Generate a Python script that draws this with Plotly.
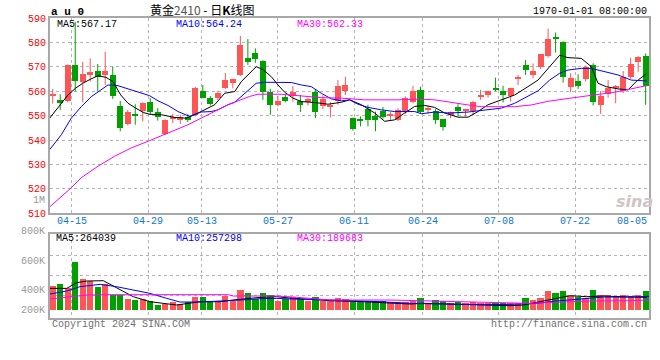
import plotly.graph_objects as go

W, H = 660, 360

# ---------------- data ----------------
DATES = [
    "04-10", "04-11", "04-12", "04-15", "04-16", "04-17", "04-18", "04-19", "04-22", "04-23",
    "04-24", "04-25", "04-26", "04-29", "04-30", "05-06", "05-07", "05-08", "05-09", "05-10",
    "05-13", "05-14", "05-15", "05-16", "05-17", "05-20", "05-21", "05-22", "05-23", "05-24",
    "05-27", "05-28", "05-29", "05-30", "05-31", "06-03", "06-04", "06-05", "06-06", "06-07",
    "06-11", "06-12", "06-13", "06-14", "06-17", "06-18", "06-19", "06-20", "06-21", "06-24",
    "06-25", "06-26", "06-27", "06-28", "07-01", "07-02", "07-03", "07-04", "07-05", "07-08",
    "07-09", "07-10", "07-11", "07-12", "07-15", "07-16", "07-17", "07-18", "07-19", "07-22",
    "07-23", "07-24", "07-25", "07-26", "07-29", "07-30", "07-31", "08-01", "08-02", "08-05",
]

OPEN = [
    558.0, 556.5, 556.1, 570.8, 563.7, 566.8, 568.3, 566.7, 566.7, 554.0,
    546.7, 550.8, 551.7, 555.5, 551.5, 542.6, 548.7, 548.5, 549.6, 550.4,
    560.2, 557.2, 557.2, 561.5, 563.2, 566.7, 573.5, 575.7, 572.5, 559.6,
    554.2, 557.7, 558.1, 556.1, 555.5, 559.6, 553.8, 553.6, 555.8, 559.9,
    549.0, 548.3, 552.7, 549.7, 552.0, 549.9, 548.3, 551.7, 555.5, 560.6,
    552.3, 551.7, 548.6, 550.1, 553.6, 551.7, 552.0, 557.9, 558.3, 561.5,
    560.2, 557.9, 565.1, 570.8, 566.7, 570.1, 574.6, 582.2, 580.0, 561.9,
    564.0, 565.1, 570.8, 554.5, 558.8, 561.5, 560.2, 566.0, 572.1, 574.4,
]
HIGH = [
    561.0, 558.8, 571.0, 588.4, 572.1, 573.5, 571.2, 576.2, 570.1, 556.1,
    552.4, 554.7, 555.5, 557.2, 553.1, 548.5, 550.8, 550.4, 550.7, 561.8,
    562.6, 558.1, 560.2, 567.5, 565.1, 582.7, 581.4, 577.6, 572.7, 561.0,
    558.1, 558.5, 562.2, 558.5, 557.4, 561.0, 558.3, 555.5, 564.6, 566.0,
    549.3, 549.7, 554.5, 551.7, 553.6, 551.5, 553.1, 557.9, 562.3, 561.9,
    554.2, 552.7, 548.6, 551.7, 554.7, 552.8, 556.1, 560.6, 560.2, 565.6,
    562.3, 561.5, 566.7, 572.8, 571.4, 575.1, 585.7, 584.1, 580.5, 567.4,
    567.0, 570.5, 571.5, 560.2, 564.6, 562.6, 568.3, 573.8, 574.4, 575.5,
]
LOW = [
    555.0, 552.4, 555.5, 560.0, 555.5, 564.0, 559.9, 562.6, 556.9, 543.6,
    546.0, 546.3, 547.7, 550.4, 548.0, 542.2, 547.0, 546.6, 547.4, 549.7,
    557.2, 554.2, 556.5, 561.0, 561.2, 566.3, 570.8, 571.7, 556.5, 550.4,
    553.8, 555.5, 555.8, 551.5, 554.2, 549.0, 552.7, 549.3, 554.5, 558.5,
    543.9, 545.6, 545.6, 543.6, 548.8, 548.3, 547.8, 550.8, 555.1, 550.7,
    550.7, 546.7, 543.9, 549.0, 549.7, 549.7, 550.4, 556.5, 557.4, 560.0,
    555.4, 555.8, 562.6, 566.7, 565.3, 569.1, 573.8, 575.9, 563.6, 559.6,
    561.0, 564.0, 554.2, 550.8, 557.4, 555.1, 559.2, 565.1, 568.0, 554.5,
]
CLOSE = [
    558.9, 555.1, 570.8, 564.0, 567.1, 567.9, 565.7, 568.3, 558.1, 544.9,
    551.3, 550.2, 555.0, 551.5, 549.4, 548.2, 549.2, 549.3, 548.1, 561.3,
    557.4, 554.7, 559.2, 564.5, 565.0, 578.9, 572.1, 573.2, 559.5, 554.2,
    556.1, 555.8, 559.6, 554.2, 556.9, 551.5, 556.9, 553.8, 562.2, 562.6,
    544.7, 548.0, 548.3, 548.3, 549.3, 550.4, 552.4, 557.2, 559.9, 551.5,
    552.8, 548.3, 545.2, 551.5, 551.7, 552.8, 555.5, 558.5, 559.9, 560.6,
    558.3, 561.5, 565.7, 568.5, 568.3, 575.1, 581.6, 581.5, 566.0, 565.3,
    562.3, 570.1, 555.5, 557.9, 561.5, 562.3, 566.0, 571.0, 574.2, 562.3,
]
# volume, thousands of lots
VOLUME_K = [
    407, 440, 363, 792, 523, 479, 380, 435, 248, 248,
    193, 176, 187, 149, 94, 105, 138, 110, 132, 226,
    226, 149, 149, 242, 149, 341, 292, 187, 292, 253,
    160, 187, 220, 187, 154, 220, 160, 176, 209, 187,
    132, 160, 149, 160, 154, 132, 132, 132, 149, 198,
    121, 176, 149, 121, 143, 121, 138, 116, 116, 121,
    121, 121, 121, 209, 165, 209, 314, 281, 314, 242,
    226, 209, 341, 259, 259, 242, 259, 231, 259, 325,
]

# moving-average lines (x = candle index)
MA5_X = [-0.40, 1.07, 2.04, 3.06, 4.0, 5.06, 6.04, 7.10, 8.03, 9.06, 10.03, 11.06, 12.07, 12.92,
         14.47, 16.25, 17.8, 18.92, 20.25, 21.58, 22.92, 24.25, 25.13, 26.25, 27.12, 28.02,
         29.12, 30.02, 30.91, 32.01, 33.12, 34.91, 36.68, 38.45, 39.57, 41.11, 42.9, 44.23,
         45.56, 46.9, 48.23, 49.56, 50.89, 52.23, 54.0, 55.33, 56.66, 58.0, 59.77, 61.55,
         63.32, 64.66, 66.21, 67.55, 68.65, 70.42, 71.76, 72.65, 73.75, 75.31, 76.65, 77.75, 79.08]
MA5_Y = [549, 554.5, 558.5, 561.3, 563.3, 565, 566.4, 565.7, 564, 558.5, 555.1, 553.1, 551.3, 550.6,
         550.4, 549.3, 549, 550.4, 552.4, 554.5, 559.2, 559.9, 564, 567.4, 570.1, 568.9,
         566, 562.6, 559.6, 557.2, 555.8, 555.4, 554.7, 555.5, 556.5, 554.5, 551.1, 547.7,
         548.3, 551.1, 553.8, 554.2, 553.4, 551.1, 549.4, 549.4, 551.7, 554.5, 556.5, 558.5,
         561.9, 564.6, 570.1, 574.8, 573.8, 573.5, 570.1, 563.3, 561.9, 561, 560.6, 564, 567.17]
MA10_X = [-0.40, 1.15, 2.48, 3.81, 5.14, 6.47, 7.37, 8.70, 10.92, 12.92, 14.03, 15.36, 16.69, 17.59,
          18.25, 18.92, 19.8, 21.13, 22.02, 23.35, 24.25, 25.35, 26.25, 27.12, 28.24, 29.58,
          31.79, 33.12, 34.45, 35.78, 37.12, 38.45, 39.57, 40.67, 42.01, 43.78, 45.56, 48.23,
          49.11, 50.89, 52.89, 55.33, 58.43, 59.77, 61.55, 63.32, 64.66, 66.21, 67.55, 68.65,
          70.42, 71.76, 73.54, 75.31, 77.08, 79.14]
MA10_Y = [536.1, 542.2, 549, 553.7, 557.8, 560.6, 562.6, 562.3, 560.1, 558.2, 556.1, 554.2, 551.7, 550.4,
          549.7, 550.6, 551.5, 551.7, 552.4, 554.5, 555.5, 558.5, 561, 563.3, 563.7, 563.6,
          563.6, 562.6, 561.9, 559.2, 556.9, 556.1, 556.5, 554.7, 553.4, 552.4, 551.7, 551.7,
          550.8, 551.5, 551.1, 551.5, 552.4, 553.1, 555.1, 557.9, 560.2, 564.6, 567.4, 568.7,
          569.4, 569.4, 568, 566.7, 564.6, 564.24]
MA30_X = [-0.40, 2.48, 3.81, 6.04, 8.26, 10.47, 12.92, 15.36, 18.03, 20.69, 23.35, 26.25, 27.35,
          30.46, 33.12, 35.78, 38.45, 41.57, 46.0, 48.67, 50.89, 52.66, 55.33, 57.1, 61.55,
          63.76, 65.99, 70.42, 74.87, 79.14]
MA30_Y = [512.6, 520.5, 524.6, 529.3, 533.4, 536.8, 539.8, 542.9, 546.3, 550.4, 554.5, 557.9, 558.8,
          558.8, 558.1, 557.4, 557.2, 556.5, 556.5, 556.8, 556.5, 555.6, 554.4, 553.7, 553.7,
          554.4, 555.9, 557.8, 559.6, 562.33]

VMA5_X = [-0.36, 1.86, 3.2, 4.53, 6.74, 7.63, 8.97, 10.74, 12.96, 15.19, 16.52, 19.62, 22.29, 24.06,
          27.62, 29.84, 32.05, 34.72, 36.94, 41.38, 44.5, 47.6, 49.37, 53.82, 56.93, 60.92, 62.7,
          64.92, 67.15, 68.92, 71.14, 73.35, 75.58, 79.14]
VMA5_Y = [368.5, 368.5, 462, 489.5, 495, 434.5, 341, 231, 148.5, 110, 93.5, 148.5, 148.5, 176,
          220, 231, 203.5, 187, 165, 148.5, 132, 110, 121, 104.5, 88, 82.5, 93.5,
          148.5, 203.5, 247.5, 231, 242, 231, 220]
VMA10_X = [-0.36, 1.86, 3.64, 6.3, 8.52, 10.74, 12.96, 15.19, 16.96, 19.62, 23.17, 24.95, 27.62, 29.84,
           32.05, 34.72, 36.94, 43.6, 47.6, 52.04, 57.38, 60.92, 64.48, 67.15, 70.7, 73.35, 76.9, 79.44]
VMA10_Y = [275, 324.5, 396, 434.5, 396, 341, 286, 203.5, 143, 143, 159.5, 176, 198, 203.5,
           192.5, 187, 176, 148.5, 121, 110, 99, 104.5, 121, 159.5, 192.5, 225.5, 225.5, 236.5]
VMA30_X = [-0.36, 1.86, 4.53, 7.63, 12.52, 23.4, 24.06, 29.84, 32.05, 34.72, 36.94, 44.94, 49.82,
           56.04, 59.15, 63.59, 65.37, 68.04, 71.59, 76.9, 79.44]
VMA30_Y = [192.5, 220, 258.5, 264, 264, 264, 242, 242, 225.5, 198, 176, 176, 159.5,
           143, 132, 121, 132, 148.5, 159.5, 165, 176]

TICK_DATES = ["04-15", "04-29", "05-13", "05-27", "06-11", "06-24", "07-08", "07-22", "08-05"]
PRICE_TICKS = [510, 520, 530, 540, 550, 560, 570, 580, 590]
VOL_LABELS = ["800K", "600K", "400K", "200K"]

TITLE = "黄金<span style='color:#555'>2410</span> - 日<b>K</b>线图"
SYMBOL = "a u 0"
STAMP = "1970-01-01 08:00:00"
MA_LEGEND = ["MA5:567.17", "MA10:564.24", "MA30:562.33"]
VOL_LEGEND = ["MA5:264039", "MA10:257298", "MA30:189683"]
FOOT_LEFT = "Copyright 2024 SINA.COM"
FOOT_RIGHT = "http://finance.sina.com.cn"

# ---------------- styling / geometry ----------------
RED, GREEN = "#ff5555", "#00a000"
MA_COLORS = ["#000000", "#0000ff", "#ff00ff"]
GRID = "#b4b4b4"
BORDER = "#a8a8a8"
MONO = "Liberation Mono, DejaVu Sans Mono, monospace"

LEFT_PX, RIGHT_PX = 50, 649
CANDLE0_PX, STEP_PX = 52.7, 7.506
MAIN_TOP, MAIN_BOT = 18.1, 213.3
VOL_TOP, VOL_BOT = 234.3, 317.7
VOL_BASE_PX, VOL_K_PER_PX = 310.7, 16.5
GRID_SCALE, GRID_SHIFT = 1.0156, -0.477


def px(x):
    return x / W


def py(y):
    return 1 - y / H


x_range = [(LEFT_PX - CANDLE0_PX) / STEP_PX, (RIGHT_PX - CANDLE0_PX) / STEP_PX]
vol_range = [-(VOL_BOT - VOL_BASE_PX) * VOL_K_PER_PX, (VOL_BASE_PX - VOL_TOP) * VOL_K_PER_PX]

idx = list(range(len(DATES)))
up = [c >= o for o, c in zip(OPEN, CLOSE)]
colors = [RED if u else GREEN for u in up]

grid_x = [DATES.index(d) * GRID_SCALE + GRID_SHIFT for d in TICK_DATES]
grid_in = [g for g in grid_x if x_range[0] < g < x_range[1]]

fig = go.Figure()

# wicks
for col, flag in ((RED, True), (GREEN, False)):
    wx, wy = [], []
    for i in idx:
        if up[i] == flag:
            wx += [i, i, None]
            wy += [LOW[i], HIGH[i], None]
    fig.add_trace(go.Scatter(x=wx, y=wy, mode="lines", line=dict(color=col, width=1),
                             hoverinfo="skip", showlegend=False, xaxis="x", yaxis="y"))

# bodies
base = [min(o, c) for o, c in zip(OPEN, CLOSE)]
height = [max(abs(c - o), 0.4) for o, c in zip(OPEN, CLOSE)]
fig.add_trace(go.Bar(x=idx, y=height, base=base, width=0.8, marker=dict(color=colors, line_width=0),
                     showlegend=False, xaxis="x", yaxis="y"))

# price MAs
for (mx, my), col in zip(((MA5_X, MA5_Y), (MA10_X, MA10_Y), (MA30_X, MA30_Y)), MA_COLORS):
    fig.add_trace(go.Scatter(x=mx, y=my, mode="lines", line=dict(color=col, width=1),
                             showlegend=False, xaxis="x", yaxis="y"))

# volume
fig.add_trace(go.Bar(x=idx, y=VOLUME_K, width=0.84, marker=dict(color=colors, line_width=0),
                     showlegend=False, xaxis="x2", yaxis="y2"))
for (mx, my), col in zip(((VMA5_X, VMA5_Y), (VMA10_X, VMA10_Y), (VMA30_X, VMA30_Y)), MA_COLORS):
    fig.add_trace(go.Scatter(x=mx, y=my, mode="lines", line=dict(color=col, width=1),
                             showlegend=False, xaxis="x2", yaxis="y2"))

axis_common = dict(showline=True, mirror=True, linecolor=BORDER, linewidth=2,
                   showgrid=True, gridcolor=GRID, griddash="dot", gridwidth=1,
                   zeroline=False, ticks="", fixedrange=True)

vol_grid_vals = [(VOL_BASE_PX - y) * VOL_K_PER_PX for y in (255.0, 275.3, 295.7)]

fig.update_layout(
    width=W, height=H,
    margin=dict(l=0, r=0, t=0, b=0, autoexpand=False),
    paper_bgcolor="white", plot_bgcolor="white",
    barmode="overlay", bargap=0,
    showlegend=False,
    xaxis=dict(domain=[px(LEFT_PX), px(RIGHT_PX)], range=x_range, anchor="y",
               tickvals=grid_in, showticklabels=False, **axis_common),
    yaxis=dict(domain=[py(MAIN_BOT), py(MAIN_TOP)], range=[PRICE_TICKS[0], PRICE_TICKS[-1]],
               anchor="x", tickvals=PRICE_TICKS, ticktext=[str(t) for t in PRICE_TICKS],
               tickfont=dict(family=MONO, size=10, color="#ff0000"), **axis_common),
    xaxis2=dict(domain=[px(LEFT_PX), px(RIGHT_PX)], range=x_range, anchor="y2",
                tickvals=grid_in, showticklabels=False, **axis_common),
    yaxis2=dict(domain=[py(VOL_BOT), py(VOL_TOP)], range=vol_range, anchor="x2",
                tickvals=vol_grid_vals, showticklabels=False, **axis_common),
)

ann = []


def text(x, y, s, color="#000000", size=10, anchor="left", family=MONO, **kw):
    ann.append(dict(x=px(x), y=py(y), xref="paper", yref="paper", text=s, showarrow=False,
                    xanchor=anchor, yanchor="middle", font=dict(family=family, size=size, color=color),
                    **kw))


# header
text(49, 12, "<b>" + SYMBOL + "</b>", size=11)
text(202, 9, TITLE, size=12, anchor="center", family="Noto Sans CJK SC")
text(649, 12, STAMP, anchor="right")
# legends
for s, col, x in zip(MA_LEGEND, MA_COLORS, (55, 174, 295)):
    text(x, 24.5, s, color=col)
for s, col, x in zip(VOL_LEGEND, MA_COLORS, (54, 174, 295)):
    text(x, 238, s, color=col)
# x labels
for d, g in zip(TICK_DATES, grid_x):
    if g < x_range[1]:
        ann.append(dict(x=g, y=py(221), xref="x", yref="paper", text=d, showarrow=False,
                        xanchor="center", yanchor="middle",
                        font=dict(family=MONO, size=10, color="#0a78d2")))
    else:
        text(649, 221, d, color="#0a78d2", anchor="right")
# volume axis labels
for s, y in zip(VOL_LABELS, (231, 261, 290, 310)):
    text(47, y, s, color="#9a9a9a", anchor="right")
text(47, 200, "1M", color="#9a9a9a", anchor="right")
# footer
text(50, 324, FOOT_LEFT, color="#707070")
text(649, 324, FOOT_RIGHT, color="#707070", anchor="right")
# watermark
text(634, 201, "<b><i>sina</i></b>", color="#d0c4c4", size=16, anchor="center",
     family="DejaVu Sans")

fig.update_layout(annotations=ann)

fig.write_html("out.html", config={"displayModeBar": False},
               post_script="document.body.style.margin='0px';document.body.style.padding='0px';")
